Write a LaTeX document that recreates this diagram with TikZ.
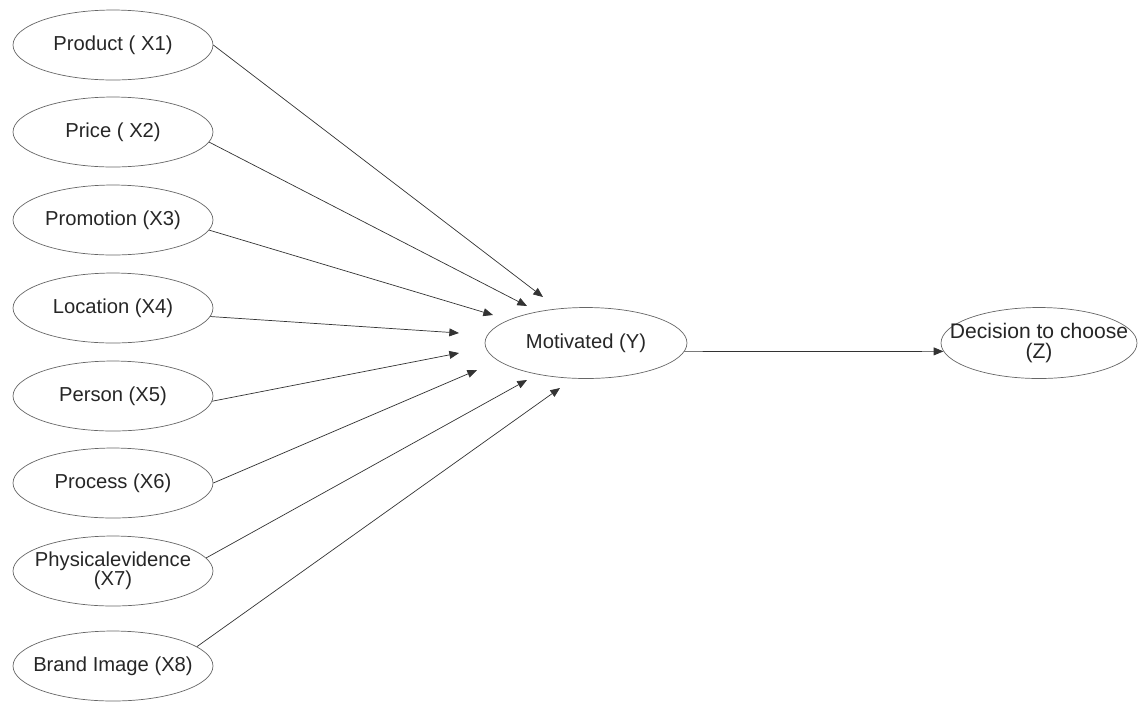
\documentclass[tikz,border=0pt]{standalone}
\usepackage{fontspec}
\setmainfont{Liberation Sans}
\usetikzlibrary{shapes.geometric, arrows.meta, positioning}

\tikzset{
  var/.style={ellipse, draw=black!60, thin, minimum width=4cm, minimum height=1.4cm,
    inner xsep=-0.3cm, inner ysep=0pt, align=center, text=black!85,
    font=\fontsize{11.5}{11}\selectfont},
  link/.style={draw=black!80, thin, -{Triangle[length=5.5pt,width=4.5pt]}}
}

\begin{document}
\begin{tikzpicture}[x=0.02cm, y=-0.02cm]
  \useasboundingbox (0,0) rectangle (1138,701);

  % independent variables
  \node[var] (x1) at (113,45) {Product ( X1)};
  \node[var] (x2) at (113,132) {Price ( X2)};
  \node[var] (x3) at (113,220) {Promotion (X3)};
  \node[var] (x4) at (113,308) {Location (X4)};
  \node[var] (x5) at (113,396) {Person (X5)};
  \node[var] (x6) at (113,483) {Process (X6)};
  \node[var] (x7) at (113,571) {Physicalevidence\\(X7)};
  \node[var] (x8) at (113,666) {Brand Image (X8)};

  \node[var, minimum width=4.04cm, minimum height=1.42cm] (mot) at (586,343) {Motivated (Y)};
  \node[var, minimum width=3.92cm, minimum height=1.42cm, inner xsep=-0.55cm,
        font=\fontsize{12}{11.5}\selectfont] (dec) at (1039,343) {Decision to choose\\(Z)};

  % arrow tips stop short of Motivated
  \coordinate (t1) at (543,297);
  \coordinate (t2) at (527,306);
  \coordinate (t3) at (493,315);
  \coordinate (t4) at (459,333);
  \coordinate (t5) at (459,353);
  \coordinate (t6) at (477,370);
  \coordinate (t7) at (527,380);
  \coordinate (t8) at (560,388);

  \draw[link] (x1.east) -- (t1);
  \draw[link] (x2.-6) -- (t2);
  \draw[link] (x3.-6) -- (t3);
  \draw[link] (x4.-5) -- (t4);
  \draw[link] (x5.-3) -- (t5);
  \draw[link] (x6.east) -- (t6);
  \draw[link] (x7.8) -- (t7);
  \draw[link] (x8.13) -- (t8);

  \draw[link] (mot.-5) -- (dec.185);
\end{tikzpicture}
\end{document}
